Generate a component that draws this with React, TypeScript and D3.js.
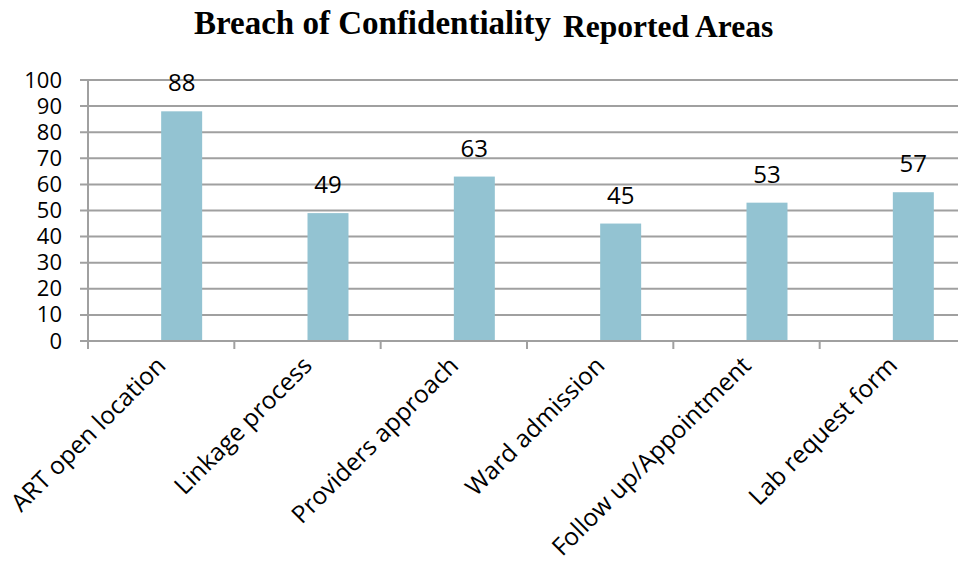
import React, { useEffect, useRef } from 'react';
import * as d3 from 'd3';

// reported areas of breach of confidentiality
const categories = [
  'ART open location',
  'Linkage process',
  'Providers approach',
  'Ward admission',
  'Follow up/Appointment',
  'Lab request form',
];
const reported = [88, 49, 63, 45, 53, 57];
// the source chart is clustered: first series is empty, only the second is drawn
const seriesKeys = ['Series 1', 'Series 2'];
const yTicks = [0, 10, 20, 30, 40, 50, 60, 70, 80, 90, 100];

const W = 958;
const H = 565;

const App = () => {
  const svgRef = useRef<SVGSVGElement>(null);

  useEffect(() => {
    if (!svgRef.current) return;
    const svg = d3.select(svgRef.current);
    svg.selectAll('*').remove();

    const left = 88;
    const top = 80;
    const bottom = 341;
    const axisFont = '"Open Sans", sans-serif';

    const x = d3.scaleBand().domain(categories).range([left, 966]).padding(0);
    const inner = d3
      .scaleBand()
      .domain(seriesKeys)
      .range([0, x.bandwidth()])
      .paddingInner(0)
      .paddingOuter(0.785);
    const y = d3.scaleLinear().domain([0, 100]).range([bottom, top]);

    // title
    const title = svg.append('text')
      .attr('y', 34)
      .attr('font-family', '"Liberation Serif", "Times New Roman", serif')
      .attr('font-weight', 'bold')
      .attr('fill', '#000');
    title.append('tspan').attr('x', 194).attr('font-size', 33).text('Breach of Confidentiality');
    title.append('tspan').attr('x', 563).attr('y', 37).attr('font-size', 31.5).text('Reported Areas');

    // gridlines
    svg.append('g')
      .selectAll('line')
      .data(yTicks)
      .enter()
      .append('line')
      .attr('x1', left - 8)
      .attr('x2', 966)
      .attr('y1', (d) => y(d))
      .attr('y2', (d) => y(d))
      .attr('stroke', '#a0a0a0')
      .attr('stroke-width', 2);

    // y axis
    const yAxis = d3.axisLeft(y).tickValues(yTicks).tickSize(0).tickPadding(26);
    const yg = svg.append('g').attr('transform', `translate(${left},0)`).call(yAxis);
    yg.select('.domain').remove();
    yg.selectAll('text')
      .attr('font-family', axisFont)
      .attr('font-size', 22)
      .attr('fill', '#000');
    svg.append('line')
      .attr('x1', left).attr('x2', left)
      .attr('y1', top).attr('y2', bottom + 8)
      .attr('stroke', '#a0a0a0').attr('stroke-width', 2);

    // bars
    svg.append('g')
      .selectAll('rect')
      .data(reported)
      .enter()
      .append('rect')
      .attr('x', (d, i) => (x(categories[i]) as number) + (inner(seriesKeys[1]) as number))
      .attr('y', (d) => y(d))
      .attr('width', inner.bandwidth())
      .attr('height', (d) => y(0) - y(d))
      .attr('fill', '#93c3d2');

    // value labels
    svg.append('g')
      .selectAll('text')
      .data(reported)
      .enter()
      .append('text')
      .attr('x', (d, i) => (x(categories[i]) as number) + (inner(seriesKeys[1]) as number) + inner.bandwidth() / 2)
      .attr('y', (d) => y(d) - 20)
      .attr('text-anchor', 'middle')
      .attr('font-family', axisFont)
      .attr('font-size', 24)
      .attr('fill', '#000')
      .text((d) => d);

    // x axis: category boundary ticks
    svg.append('line')
      .attr('x1', left - 8).attr('x2', 966)
      .attr('y1', bottom).attr('y2', bottom)
      .attr('stroke', '#a0a0a0').attr('stroke-width', 2);
    svg.append('g')
      .selectAll('line')
      .data(categories)
      .enter()
      .append('line')
      .attr('x1', (d) => x(d) as number)
      .attr('x2', (d) => x(d) as number)
      .attr('y1', bottom)
      .attr('y2', bottom + 8)
      .attr('stroke', '#a0a0a0')
      .attr('stroke-width', 2);

    // rotated category labels
    svg.append('g')
      .selectAll('text')
      .data(categories)
      .enter()
      .append('text')
      .attr('transform', (d) => `translate(${(x(d) as number) + x.bandwidth() / 2 + 6},${bottom + 26}) rotate(-45)`)
      .attr('text-anchor', 'end')
      .attr('font-family', axisFont)
      .attr('font-size', 24.5)
      .attr('fill', '#000')
      .text((d) => d);
  }, []);

  return (
    <svg
      ref={svgRef}
      width={W}
      height={H}
      style={{ position: 'absolute', left: 0, top: 0, background: '#fff' }}
    />
  );
};

export default App;
